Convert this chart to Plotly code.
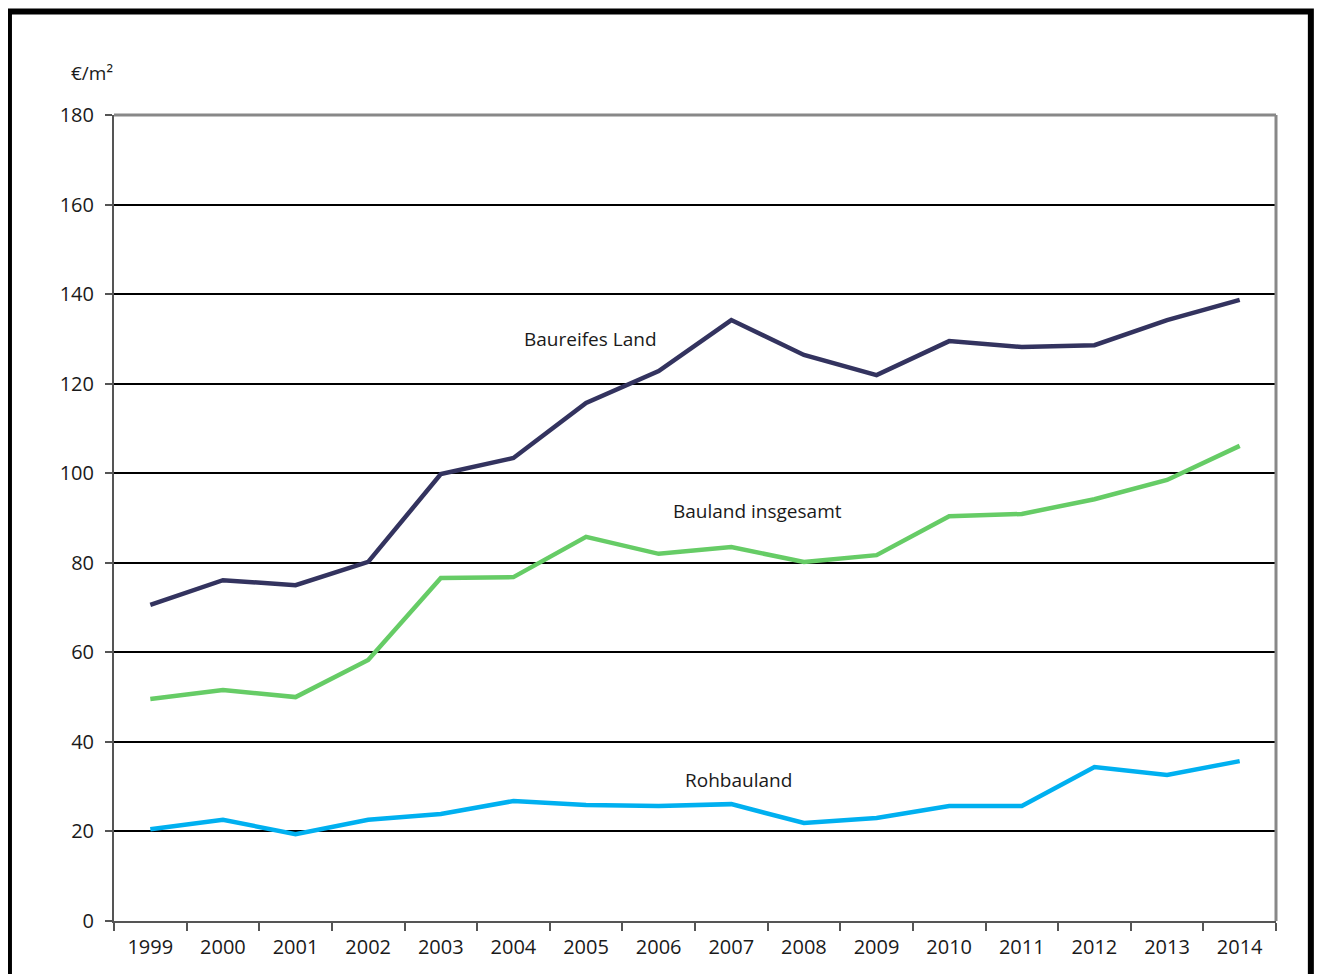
import plotly.graph_objects as go

years = [str(y) for y in range(1999, 2015)]
baureifes_land = [70.6, 76.1, 75.0, 80.2, 99.8, 103.4, 115.7, 122.8, 134.2, 126.4, 121.9, 129.5, 128.2, 128.6, 134.2, 138.7]
bauland_insgesamt = [49.6, 51.6, 50.0, 58.3, 76.6, 76.8, 85.8, 82.0, 83.5, 80.2, 81.7, 90.4, 90.9, 94.2, 98.5, 106.1]
rohbauland = [20.5, 22.6, 19.4, 22.6, 23.9, 26.8, 25.9, 25.7, 26.1, 21.9, 23.0, 25.7, 25.7, 34.4, 32.6, 35.7]

FONT = "Open Sans"
TXT = "#1a1a1a"

fig = go.Figure()
fig.add_trace(go.Scatter(x=years, y=baureifes_land, mode="lines", name="Baureifes Land",
                         line=dict(color="#33335F", width=4.5)))
fig.add_trace(go.Scatter(x=years, y=bauland_insgesamt, mode="lines", name="Bauland insgesamt",
                         line=dict(color="#66CC66", width=4.5)))
fig.add_trace(go.Scatter(x=years, y=rohbauland, mode="lines", name="Rohbauland",
                         line=dict(color="#00B0F0", width=4.5)))

fig.update_layout(
    width=1314, height=966,
    margin=dict(l=106, r=46, t=107, b=53, autoexpand=False),
    paper_bgcolor="white", plot_bgcolor="white",
    showlegend=False,
    font=dict(family=FONT, size=20, color=TXT),
    xaxis=dict(
        type="category", range=[-0.5, len(years) - 0.5], automargin=False,
        showgrid=False, tickson="boundaries",
        ticks="outside", ticklen=8, tickwidth=1.5, tickcolor="#555555",
        showline=True, linecolor="#555555", linewidth=2, mirror=False,
        ticklabelstandoff=7,
        tickfont=dict(family=FONT, size=20, color=TXT),
    ),
    yaxis=dict(
        range=[0, 180], dtick=20, tick0=0, automargin=False,
        showgrid=True, gridcolor="#000000", gridwidth=2,
        zeroline=False,
        ticks="outside", ticklen=7, tickwidth=1.5, tickcolor="#555555",
        showline=True, linecolor="#555555", linewidth=2,
        ticklabelstandoff=7,
        tickfont=dict(family=FONT, size=20, color=TXT),
    ),
)

# gray top and right frame of the plot area
fig.add_shape(type="line", xref="paper", yref="paper", x0=0, x1=1, y0=1, y1=1,
              line=dict(color="#888888", width=3))
fig.add_shape(type="line", xref="paper", yref="paper", x0=1, x1=1, y0=0, y1=1,
              line=dict(color="#888888", width=3))

# thick black outer frame
fig.add_shape(type="rect", xref="paper", yref="paper",
              x0=-0.0904, x1=1.030, y0=-0.09, y1=1.1284,
              line=dict(color="#000000", width=6), layer="above")

fig.add_annotation(text="€/m²", xref="paper", yref="paper", x=-0.019, y=1.052,
                   showarrow=False, xanchor="center", yanchor="middle",
                   font=dict(family=FONT, size=19, color=TXT))
fig.add_annotation(text="Baureifes Land", x=6.06, y=130, showarrow=False,
                   font=dict(family=FONT, size=19, color=TXT))
fig.add_annotation(text="Bauland insgesamt", x=8.36, y=91.6, showarrow=False,
                   font=dict(family=FONT, size=19, color=TXT))
fig.add_annotation(text="Rohbauland", x=8.1, y=31.5, showarrow=False,
                   font=dict(family=FONT, size=19, color=TXT))

fig.write_html("out.html")
